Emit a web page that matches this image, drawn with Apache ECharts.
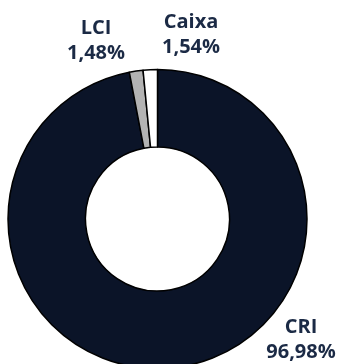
<!DOCTYPE html>
<html><head><meta charset="utf-8">
<script src="https://cdn.jsdelivr.net/npm/echarts@6/dist/echarts.min.js"></script>
<style>html,body{margin:0;padding:0;background:#fff}#c{width:339px;height:364px}</style>
</head><body><div id="c"></div>
<script>
var categories = ['CRI', 'LCI', 'Caixa'];
var values = [96.98, 1.48, 1.54];
var colors = ['#0b1428', '#b3b3b3', '#ffffff'];
var labelPos = [[301, 340], [96, 41], [191, 35]];

var chart = echarts.init(document.getElementById('c'));
chart.setOption({
  animation: false,
  series: [{
    type: 'pie',
    center: [157.5, 219],
    radius: [72, 149.5],
    startAngle: 90,
    clockwise: true,
    avoidLabelOverlap: false,
    data: categories.map(function (c, i) {
      return { name: c, value: values[i], itemStyle: { color: colors[i] } };
    }),
    itemStyle: { borderColor: '#000', borderWidth: 1.5 },
    label: {
      show: true,
      position: 'outside',
      formatter: function (p) { return p.name + '\n' + p.value.toFixed(2).replace('.', ',') + '%'; },
      fontFamily: 'Open Sans',
      fontWeight: 'bold',
      fontSize: 20,
      lineHeight: 25,
      color: '#1b2a45',
      align: 'center'
    },
    labelLine: { show: false },
    labelLayout: function (p) {
      var pos = labelPos[p.dataIndex];
      return { x: pos[0], y: pos[1], align: 'center', verticalAlign: 'middle', hideOverlap: false, moveOverlap: false };
    }
  }]
});
</script></body></html>
